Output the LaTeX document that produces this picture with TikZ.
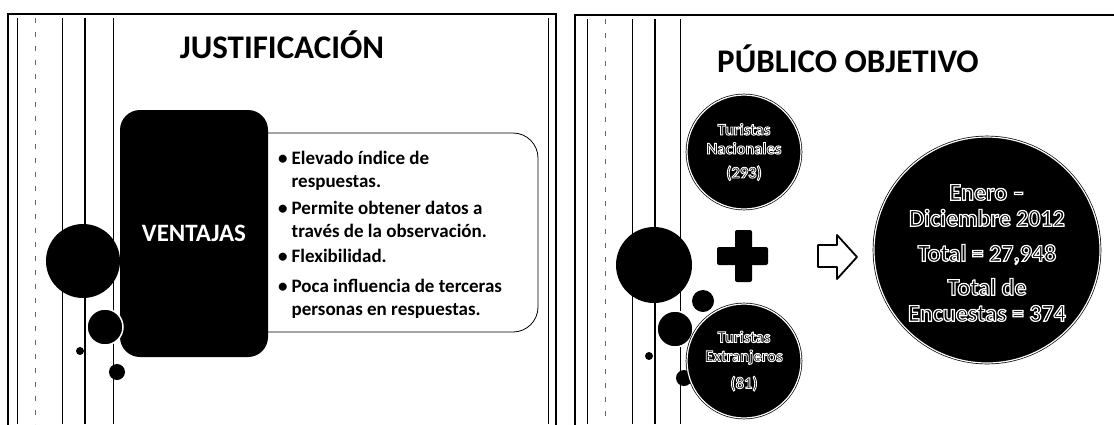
\documentclass[tikz,border=0pt]{standalone}
\usepackage{fontspec}
\setmainfont{Carlito}
\usetikzlibrary{positioning}
\tikzset{
        % Slide frames and stripes
        frame_line/.style={black, line width=1.3pt},
        stripe_thin/.style={black, line width=0.8pt},
        stripe_thick/.style={black, line width=2pt},
        stripe_dashed/.style={black!60, line width=0.6pt, dash pattern=on 5pt off 9pt},
        % Titles
        slide_title/.style={font=\fontsize{33}{36}\selectfont\bfseries, inner sep=0pt},
        % Black boxes and circles
        dot/.style={circle, fill=black, inner sep=0pt},
        bubble/.style={circle, fill=black, draw=white, line width=1.5pt, inner sep=0pt},
        bubble_ring/.style={circle, fill=black, draw=black, double=white, double distance=1.2pt, line width=0.7pt, inner sep=0pt},
        ventajas_box/.style={rectangle, rounded corners=20pt, fill=black, text=white, inner sep=0pt,
                minimum width=148pt, minimum height=247pt, font=\fontsize{25}{28}\selectfont\bfseries},
        list_box/.style={rectangle, rounded corners=25pt, draw=black, line width=0.8pt, fill=white,
                minimum width=298pt, minimum height=199pt},
        list_text/.style={align=left, inner sep=0pt, font=\fontsize{19}{23}\selectfont\bfseries},
        % Texts with a white rim
        rim_small/.style={align=center, inner sep=0pt, text=black, font=\fontsize{16.5}{19}\selectfont\bfseries},
        rim_big/.style={align=center, inner sep=0pt, text=black, font=\fontsize{24}{26}\selectfont\bfseries}
}
% black letters with a white stroke round them
\newcommand{\rimtext}[2]{\special{pdf:literal direct 2 Tr #1 w 1 1 1 RG}#2\special{pdf:literal direct 0 Tr 0 0 0 RG}}

\begin{document}
\begin{tikzpicture}[x=1pt, y=-1pt]
        \useasboundingbox (0,0) rectangle (1114,424);
        \clip (0,0) rectangle (1114,424);
        \fill[white] (0,0) rectangle (1114,424);

        % left slide
        \draw[frame_line] (8,14) rectangle (556,440);
        \foreach \x in {17,62,113,548}
                \draw[stripe_thin] (\x,18) -- (\x,424);
        \draw[stripe_thick] (85,18) -- (85,424);
        \draw[stripe_dashed] (35,18) -- (35,424);

        \node[slide_title] (title_just) at (282,45) {JUSTIFICACIÓN};

        \node[list_box] (box_list) at (389,232.5) {};
        \node[ventajas_box] (ventajas) at (194,233.5) {VENTAJAS};
        \node[list_text, anchor=north west] (list_adv) at (278,148) {%
                \begin{tabular}{@{}l@{\hspace{4pt}}l@{}}
                        \textbullet & Elevado índice de\\
                                    & respuestas.\\[4pt]
                        \textbullet & Permite obtener datos a\\
                                    & través de la observación.\\[2pt]
                        \textbullet & Flexibilidad.\\[7pt]
                        \textbullet & Poca influencia de terceras\\
                                    & personas en respuestas.
                \end{tabular}};

        \node[dot, minimum size=74pt] (circ_l1) at (83,261) {};
        \node[bubble, minimum size=36pt] (circ_l2) at (105,327) {};
        \node[dot, minimum size=8pt] (circ_l3) at (80,351) {};
        \node[dot, minimum size=16pt] (circ_l4) at (117,372) {};

        % right slide
        \draw[frame_line] (575,15) rectangle (1130,440);
        \foreach \x in {587,632,680}
                \draw[stripe_thin] (\x,19) -- (\x,424);
        \draw[stripe_thick] (655,19) -- (655,424);
        \draw[stripe_dashed] (605,19) -- (605,424);

        \node[slide_title] (title_pub) at (848,59) {PÚBLICO OBJETIVO};

        \node[dot, minimum size=76pt] (circ_r1) at (654,265) {};
        \node[dot, minimum size=22pt] (circ_r2) at (703,301) {};
        \node[bubble, minimum size=36pt] (circ_r3) at (675,329) {};
        \node[dot, minimum size=8pt] (circ_r4) at (649,356) {};
        \node[dot, minimum size=16pt] (circ_r5) at (684,378) {};

        \node[bubble_ring, minimum size=114pt] (nacionales) at (744,152) {};
        \node[bubble_ring, minimum size=114pt] (extranjeros) at (744,361) {};
        \node[rim_small] (txt_nac) at (nacionales) {\rimtext{0.9}{Turistas\\Nacionales\\[5pt](293)}};
        \node[rim_small] (txt_ext) at (extranjeros) {\rimtext{0.9}{Turistas\\Extranjeros\\[8pt](81)}};

        % plus sign
        \fill[rounded corners=2pt] (735,230) rectangle (752,282);
        \fill[rounded corners=2pt] (717,247) rectangle (768,265);

        % block arrow
        \draw[fill=white, line width=1.8pt, line join=round]
                (818,245) -- (837,245) -- (837,235) -- (857,257) -- (837,279) -- (837,267) -- (818,267) -- cycle;

        \node[bubble_ring, minimum size=226pt] (total) at (987,250) {};
        \node[rim_big] (txt_total) at (987,253) {\rimtext{1.2}{Enero –\\Diciembre 2012\\[9pt]Total = 27,948\\[8pt]Total de\\Encuestas = 374}};
\end{tikzpicture}
\end{document}
